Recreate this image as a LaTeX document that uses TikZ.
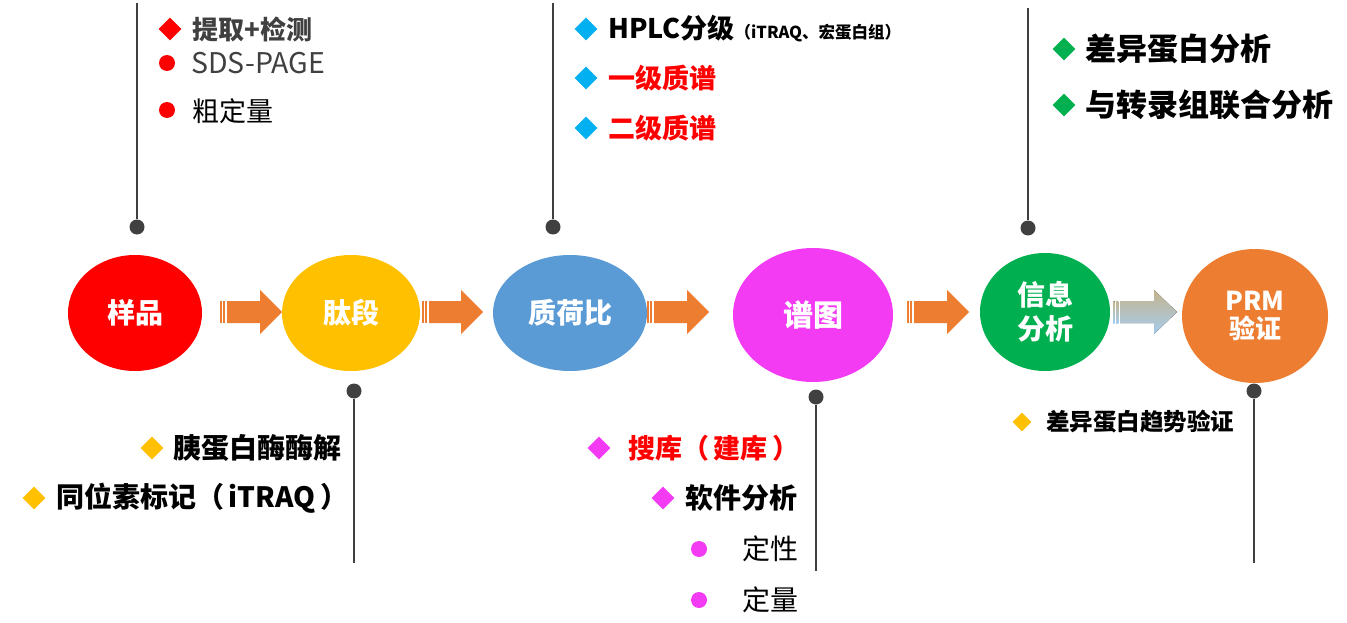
\documentclass[tikz,border=0pt]{standalone}
\usepackage{fontspec}
\setmainfont{Noto Sans CJK SC}
\usetikzlibrary{shapes.geometric}
\definecolor{cred}{HTML}{FF0000}
\definecolor{cyel}{HTML}{FFC000}
\definecolor{cblu}{HTML}{5B9BD5}
\definecolor{cmag}{HTML}{F43BF4}
\definecolor{cgrn}{HTML}{00B050}
\definecolor{corg}{HTML}{ED7D31}
\definecolor{ccyan}{HTML}{00B0F0}
\definecolor{cgray}{HTML}{404040}
\definecolor{gtop}{HTML}{C4B48C}
\definecolor{gbot}{HTML}{A6CCEE}
\newcommand\fsz[1]{\fontsize{#1}{#1}\selectfont}
\tikzset{
  stage/.style={ellipse, inner sep=0pt, text=white, align=center, font=\bfseries\fsz{28}},
  dia/.style={diamond, inner sep=0pt, minimum size=23pt, fill=#1},
  bul/.style={circle, inner sep=0pt, minimum size=16pt, fill=#1},
  pin/.style={circle, inner sep=0pt, minimum size=15pt, fill=cgray},
  stem/.style={draw=cgray, line width=1.5pt},
  item/.style={anchor=west, inner sep=0pt},
}
\newcommand\blockarrow[4]{%
  \fill[#4] (#1,301) rectangle (#1+1.6,323);
  \fill[#4] (#1+3.2,301) rectangle (#1+5.4,323);
  \fill[#4] (#1+7,301) -- (#2,301) -- (#2,290) -- (#3,312) -- (#2,334) -- (#2,323) -- (#1+7,323) -- cycle;}
\begin{document}
\begin{tikzpicture}[x=1pt,y=-1pt]
\useasboundingbox (0,0) rectangle (1347,623);
% stages
\node[stage, fill=cred, minimum width=134pt, minimum height=116pt] (s1) at (135,313) {样品};
\node[stage, fill=cyel, minimum width=138pt, minimum height=116pt] (s2) at (351,313) {肽段};
\node[stage, fill=cblu, minimum width=154pt, minimum height=116pt] (s3) at (570,313) {质荷比};
\node[stage, fill=cmag, minimum width=160pt, minimum height=134pt, font=\bfseries\fsz{30}] (s4) at (813,315) {谱图};
\node[stage, fill=cgrn, minimum width=130pt, minimum height=118pt] (s5) at (1045,312) {信息\\[6pt]分析};
\node[stage, fill=corg, minimum width=146pt, minimum height=134pt, font=\bfseries\fsz{26}] (s6) at (1255,316) {PRM\\[2pt]验证};
% block arrows
\blockarrow{220}{260}{282}{corg}
\blockarrow{422}{461}{483}{corg}
\blockarrow{647}{687}{709}{corg}
\blockarrow{907}{947}{969}{corg}
\blockarrow{1113}{1154}{1177}{top color=gtop, bottom color=gbot}
% pins top
\node[pin] (p1) at (137,227) {};
\coordinate (e1) at (137,3);
\draw[stem] (p1) -- (e1);
\node[pin] (p2) at (553,227) {};
\coordinate (e2) at (553,3);
\draw[stem] (p2) -- (e2);
\node[pin] (p3) at (1028,228) {};
\coordinate (e3) at (1028,8);
\draw[stem] (p3) -- (e3);
% pins bottom
\node[pin] (p4) at (354,391) {};
\coordinate (e4) at (354,563);
\draw[stem] (p4) -- (e4);
\node[pin] (p5) at (816,397) {};
\coordinate (e5) at (816,571);
\draw[stem] (p5) -- (e5);
\node[pin] (p6) at (1254,391) {};
\coordinate (e6) at (1254,563);
\draw[stem] (p6) -- (e6);
% group 1 top
\node[dia=cred] (d11) at (170,29) {};
\node[item, text=cgray, font=\bfseries\fsz{26}] (t11) at (192,29) {提取+检测};
\node[bul=cred] (b12) at (167,63) {};
\node[item, text=cgray, font=\fsz{28.5}] (t12) at (191,63) {SDS-PAGE};
\node[bul=cred] (b13) at (167,110) {};
\node[item, text=black, font=\fsz{27}] (t13) at (192,111) {粗定量};
% group 2 top
\node[dia=ccyan] (d21) at (586,29) {};
\node[item, font=\bfseries\fsz{27}] (t21) at (608,29) {HPLC分级\fsz{16.5}（iTRAQ、宏蛋白组）};
\node[dia=ccyan] (d22) at (586,78) {};
\node[item, text=cred, font=\bfseries\fsz{27}] (t22) at (608,78) {一级质谱};
\node[dia=ccyan] (d23) at (586,128) {};
\node[item, text=cred, font=\bfseries\fsz{27}] (t23) at (608,128) {二级质谱};
% group 3 top
\node[dia=cgrn] (d31) at (1064,49) {};
\node[item, font=\bfseries\fsz{31}] (t31) at (1085,49) {差异蛋白分析};
\node[dia=cgrn] (d32) at (1064,105) {};
\node[item, font=\bfseries\fsz{31}] (t32) at (1085,105) {与转录组联合分析};
% group 1 bottom
\node[dia=cyel] (d41) at (152,448) {};
\node[item, font=\bfseries\fsz{28}] (t41) at (173,448) {胰蛋白酶酶解};
\node[dia=cyel] (d42) at (34,498) {};
\node[item, font=\bfseries\fsz{28}] (t42) at (56,498) {同位素标记（\,iTRAQ\,）};
% group 2 bottom
\node[dia=cmag] (d51) at (599,448) {};
\node[item, text=cred, font=\bfseries\fsz{27}] (t51) at (628,448) {搜库（\,建库\,）};
\node[dia=cmag] (d52) at (663,498) {};
\node[item, font=\bfseries\fsz{28}] (t52) at (685,498) {软件分析};
\node[bul=cmag] (b53) at (699,549) {};
\node[item, font=\fsz{28}] (t53) at (742,549) {定性};
\node[bul=cmag] (b54) at (699,600) {};
\node[item, font=\fsz{28}] (t54) at (742,600) {定量};
% group 3 bottom
\node[dia=cyel, minimum size=19pt] (d61) at (1022,422) {};
\node[item, font=\bfseries\fsz{23.5}] (t61) at (1046,422) {差异蛋白趋势验证};
\end{tikzpicture}
\end{document}
